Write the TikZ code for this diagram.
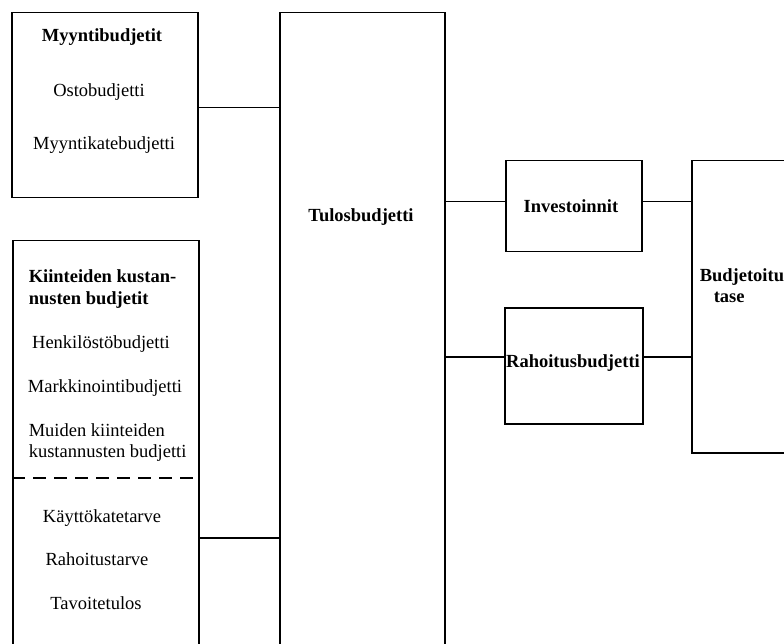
\documentclass[tikz,border=0pt]{standalone}
\usepackage{fontspec}
\setmainfont{Liberation Serif}

\begin{document}
\fontsize{18.5}{21}\selectfont
\begin{tikzpicture}[x=1pt, y=-1pt, line width=1.5pt,
    laatikko/.style = {draw, rectangle, inner sep=0pt, anchor=north west},
    otsikko/.style = {font=\bfseries, inner sep=0pt},
    rivi/.style = {inner sep=0pt}]
    \useasboundingbox (0,0) rectangle (784,644);
    \clip (0,0) rectangle (784,644);
    % laatikot
    \node[laatikko, minimum width=186, minimum height=185] (myynti) at (11,12) {};
    \node[laatikko, minimum width=186, minimum height=430] (kiinteat) at (12,240) {};
    \node[laatikko, minimum width=165, minimum height=660] (tulos) at (279,12) {};
    \node[laatikko, minimum width=136, minimum height=91] (inv) at (505,160) {};
    \node[laatikko, minimum width=138, minimum height=116] (rah) at (504,307) {};
    \node[laatikko, minimum width=130, minimum height=292] (budj) at (691,160) {};
    % tekstit
    \node[otsikko, anchor=base] (myyntiots) at (102,42) {Myyntibudjetit};
    \node[rivi, anchor=base] (osto) at (99,97) {Ostobudjetti};
    \node[rivi, anchor=base] (myyntikate) at (104,150) {Myyntikatebudjetti};
    \node[otsikko, anchor=base west] (kiinteaots1) at (28,283) {Kiinteiden kustan-};
    \node[otsikko, anchor=base west] (kiinteaots2) at (28,304) {nusten budjetit};
    \node[rivi, anchor=base] (henkilosto) at (101,348) {Henkilöstöbudjetti};
    \node[rivi, anchor=base] (markkinointi) at (105,392) {Markkinointibudjetti};
    \node[rivi, anchor=base west] (muiden1) at (28,436) {Muiden kiinteiden};
    \node[rivi, anchor=base west] (muiden2) at (28,457) {kustannusten budjetti};
    \node[rivi, anchor=base] (kayttokate) at (102,522) {Käyttökatetarve};
    \node[rivi, anchor=base] (rahoitustarve) at (97,565) {Rahoitustarve};
    \node[rivi, anchor=base] (tavoitetulos) at (96,609) {Tavoitetulos};
    \node[otsikko, anchor=base] (tulosteksti) at (361,222) {Tulosbudjetti};
    \node[otsikko, anchor=base] (invteksti) at (571,213) {Investoinnit};
    \node[otsikko, anchor=base] (rahteksti) at (573,367) {Rahoitusbudjetti};
    \node[otsikko, anchor=base west] (budjteksti1) at (699,282) {Budjetoitu};
    \node[otsikko, anchor=base west] (budjteksti2) at (713,302) {tase};
    % katkoviiva
    \draw[dash pattern=on 13pt off 8pt] (kiinteat.west |- 0,478) -- (kiinteat.east |- 0,478);
    % yhteydet
    \coordinate (kliitos) at (198,538);
    \draw ([yshift=-2.5pt]myynti.east) -- ([yshift=-2.5pt]myynti.east -| tulos.west);
    \draw (kliitos) -- (kliitos -| tulos.west);
    \draw ([yshift=4.5pt]inv.west) -- ([yshift=4.5pt]inv.west -| tulos.east);
    \draw ([yshift=9pt]rah.west) -- ([yshift=9pt]rah.west -| tulos.east);
    \draw ([yshift=4.5pt]inv.east) -- ([yshift=4.5pt]inv.east -| budj.west);
    \draw ([yshift=9pt]rah.east) -- ([yshift=9pt]rah.east -| budj.west);
\end{tikzpicture}
\end{document}
